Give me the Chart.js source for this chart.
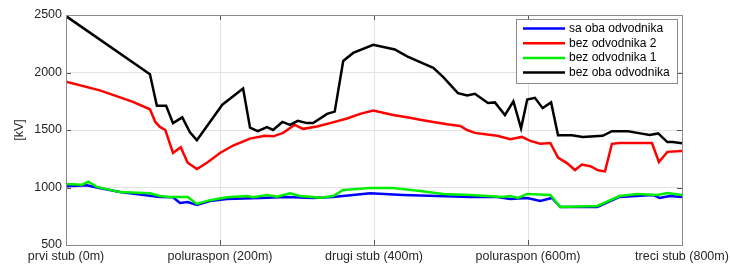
<!DOCTYPE html>
<html>
<head>
<meta charset="utf-8">
<script src="https://cdn.jsdelivr.net/npm/chart.js@4/dist/chart.umd.min.js"></script>
<style>
  html, body { margin: 0; padding: 0; background: #fff; }
  #wrap { width: 730px; height: 267px; position: relative; }
</style>
</head>
<body>
<div id="wrap"><canvas id="chart"></canvas></div>
<script>
const xTickLabels = ['prvi stub (0m)', 'poluraspon (200m)', 'drugi stub (400m)', 'poluraspon (600m)', 'treci stub (800m)'];
const seriesNames = ['sa oba odvodnika', 'bez odvodnika 2', 'bez odvodnika 1', 'bez oba odvodnika'];
const seriesColors = ['#0000ff', '#ff0000', '#00ee00', '#000000'];

// distance along the line (m) / voltage (kV)
const saObaX = [0, 27, 40, 70, 122, 139, 148, 158, 170, 187, 209, 252, 287, 321, 347, 395, 438, 482, 525, 560, 577, 599, 616, 631, 642, 690, 719, 762, 771, 784, 800];
const saObaY = [1010, 1020, 1000, 960, 918, 915, 865, 874, 848, 882, 900, 909, 918, 909, 918, 950, 935, 926, 918, 918, 900, 909, 882, 909, 830, 830, 918, 935, 909, 926, 918];

const bez2X = [0, 44, 87, 109, 116, 122, 129, 139, 149, 158, 170, 183, 200, 217, 239, 258, 269, 282, 297, 308, 326, 343, 365, 382, 399, 425, 443, 460, 477, 495, 512, 521, 531, 547, 560, 577, 592, 603, 616, 629, 639, 651, 661, 670, 681, 691, 700, 709, 719, 761, 770, 781, 800];
const bez2Y = [1920, 1845, 1745, 1680, 1570, 1527, 1500, 1300, 1350, 1215, 1160, 1215, 1300, 1365, 1425, 1450, 1445, 1475, 1545, 1510, 1530, 1560, 1600, 1640, 1670, 1630, 1610, 1590, 1570, 1550, 1535, 1500, 1475, 1460, 1450, 1420, 1440, 1405, 1380, 1387, 1260, 1210, 1152, 1200, 1185, 1150, 1140, 1380, 1387, 1387, 1222, 1310, 1317];

const bez1X = [0, 21, 29, 40, 70, 109, 122, 135, 158, 170, 187, 209, 235, 243, 261, 274, 291, 304, 330, 347, 360, 395, 425, 460, 490, 525, 568, 577, 587, 599, 629, 642, 690, 719, 742, 768, 781, 800];
const bez1Y = [1030, 1025, 1050, 1005, 960, 950, 926, 918, 918, 857, 890, 915, 926, 915, 935, 920, 950, 926, 910, 926, 978, 995, 995, 970, 944, 935, 918, 926, 909, 944, 935, 830, 839, 926, 944, 935, 952, 935];

const bezObaX = [0, 109, 118, 130, 139, 151, 161, 170, 203, 230, 239, 249, 261, 269, 281, 291, 301, 313, 321, 339, 349, 360, 373, 399, 427, 443, 460, 477, 490, 509, 521, 531, 548, 557, 570, 581, 591, 599, 609, 619, 630, 639, 657, 671, 697, 709, 730, 742, 758, 769, 781, 788, 800];
const bezObaY = [2490, 1985, 1710, 1710, 1560, 1610, 1480, 1410, 1720, 1860, 1520, 1490, 1525, 1500, 1570, 1545, 1580, 1560, 1560, 1640, 1660, 2100, 2170, 2240, 2200, 2140, 2090, 2040, 1960, 1820, 1800, 1815, 1735, 1740, 1630, 1750, 1515, 1765, 1780, 1690, 1740, 1455, 1455, 1440, 1450, 1490, 1490, 1475, 1456, 1470, 1395, 1395, 1385];

const toPoints = (xs, ys) => xs.map((x, i) => ({ x: x, y: ys[i] }));
const seriesData = [toPoints(saObaX, saObaY), toPoints(bez2X, bez2Y), toPoints(bez1X, bez1Y), toPoints(bezObaX, bezObaY)];

const FONT = 'Liberation Sans, Arial, Helvetica, sans-serif';
const TEXT = '#262626';

// MATLAB-like box, inner ticks and legend
const matlabBox = {
  id: 'matlabBox',
  afterDatasetsDraw(chart) {
    const { ctx, chartArea: a, scales } = chart;
    ctx.save();
    ctx.strokeStyle = '#555';
    ctx.lineWidth = 1;
    ctx.beginPath();
    scales.x.ticks.forEach(t => {
      const px = Math.round(scales.x.getPixelForValue(t.value)) + 0.5;
      ctx.moveTo(px, a.bottom); ctx.lineTo(px, a.bottom - 5);
      ctx.moveTo(px, a.top); ctx.lineTo(px, a.top + 5);
    });
    scales.y.ticks.forEach(t => {
      const py = Math.round(scales.y.getPixelForValue(t.value)) + 0.5;
      ctx.moveTo(a.left, py); ctx.lineTo(a.left + 5, py);
      ctx.moveTo(a.right, py); ctx.lineTo(a.right - 5, py);
    });
    ctx.stroke();
    ctx.strokeStyle = '#8a8a8a';
    ctx.strokeRect(Math.round(a.left) + 0.5, Math.round(a.top) + 0.5, Math.round(a.right - a.left), Math.round(a.bottom - a.top));
    ctx.restore();
  },
  afterDraw(chart) {
    const { ctx, chartArea: a } = chart;
    const right = a.right - 5, top = a.top + 4, w = 161, h = 64;
    const left = right - w;
    ctx.save();
    ctx.fillStyle = '#fff';
    ctx.fillRect(left, top, w, h);
    ctx.strokeStyle = '#8a8a8a';
    ctx.lineWidth = 1;
    ctx.strokeRect(Math.round(left) + 0.5, Math.round(top) + 0.5, w, h);
    ctx.font = '12px ' + FONT;
    ctx.textBaseline = 'middle';
    chart.data.datasets.forEach((ds, i) => {
      const y = top + 9.5 + i * 14.7;
      ctx.strokeStyle = ds.borderColor;
      ctx.lineWidth = 2.5;
      ctx.beginPath();
      ctx.moveTo(left + 7, y); ctx.lineTo(left + 49, y);
      ctx.stroke();
      ctx.fillStyle = '#000';
      ctx.fillText(ds.label, left + 53, y);
    });
    ctx.restore();
  }
};

new Chart(document.getElementById('chart'), {
  type: 'line',
  data: {
    datasets: seriesNames.map((name, i) => ({
      label: name,
      data: seriesData[i],
      borderColor: seriesColors[i],
      backgroundColor: seriesColors[i],
      order: 4 - i
    }))
  },
  options: {
    responsive: true,
    maintainAspectRatio: false,
    animation: false,
    layout: { padding: { left: 0, right: 48, top: 15, bottom: 0 } },
    elements: {
      point: { radius: 0 },
      line: { borderWidth: 2.5, tension: 0 }
    },
    plugins: {
      legend: { display: false },
      tooltip: { enabled: false }
    },
    scales: {
      x: {
        type: 'linear',
        min: 0,
        max: 800,
        border: { display: false },
        grid: { color: '#e3e3e3', drawTicks: false },
        ticks: {
          stepSize: 200,
          padding: 4,
          maxRotation: 0,
          autoSkip: false,
          color: TEXT,
          font: { family: FONT, size: 12.5 },
          callback: v => xTickLabels[v / 200]
        },
        afterFit(s) { s.height = 22; s.paddingLeft = 0; s.paddingRight = 0; }
      },
      y: {
        min: 500,
        max: 2500,
        border: { display: false },
        grid: { color: '#e3e3e3', drawTicks: false },
        ticks: {
          stepSize: 500,
          padding: 4,
          color: TEXT,
          font: { family: FONT, size: 12.5 },
          callback: v => String(v)
        },
        title: {
          display: true,
          text: '[kV]',
          color: TEXT,
          padding: { top: 12, bottom: 0 },
          font: { family: FONT, size: 12.5 }
        },
        afterFit(s) { s.width = 66; }
      }
    }
  },
  plugins: [matlabBox]
});
</script>
</body>
</html>
